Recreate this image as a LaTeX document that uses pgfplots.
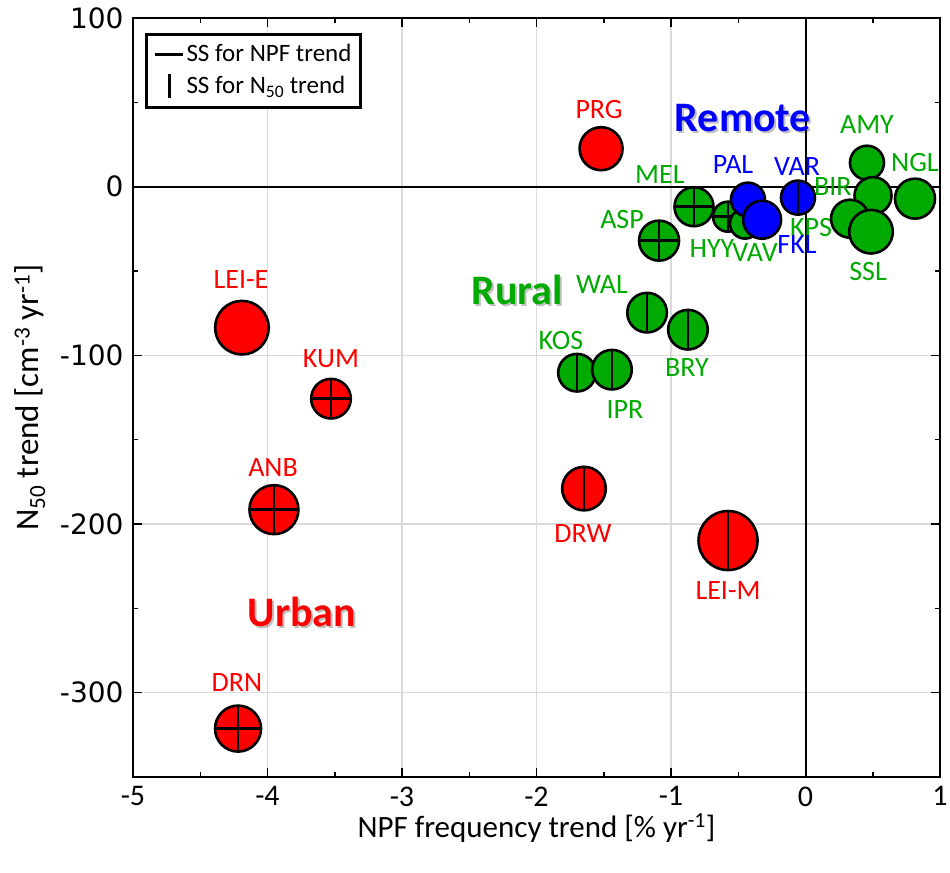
\documentclass[border=0pt]{standalone}
\usepackage{fontspec}
\setmainfont{Carlito}
\newfontfamily\tickfont{DejaVu Sans}
\usepackage{pgfplots}
\pgfplotsset{compat=1.18}

\definecolor{urbanred}{RGB}{255,0,0}
\definecolor{ruralgreen}{RGB}{0,170,0}
\definecolor{remoteblue}{RGB}{0,0,255}
\definecolor{gridgray}{RGB}{218,218,218}

\pgfplotsset{
  site/.style={only marks, mark=*, mark options={draw=black, fill=#1, line width=2.6pt}},
  ssv/.style={only marks, mark=|, mark options={draw=black, line width=2.6pt}},
  ssh/.style={only marks, mark=-, mark options={draw=black, line width=2.6pt}},
}
\tikzset{
  lbl/.style={font=\fontsize{28}{32}\selectfont, inner sep=0pt, anchor=center},
  cat/.style={font=\bfseries\fontsize{42}{46}\selectfont, inner sep=0pt, anchor=center},
}

\begin{document}
\begin{tikzpicture}
\begin{axis}[
  name=ax, at={(0,0)}, anchor=south west,
  width=807pt, height=759pt, scale only axis,
  xmin=-5, xmax=1, ymin=-350, ymax=100,
  xtick={-5,-4,-3,-2,-1,0,1}, xticklabels={-5,-4,-3,-2,-1,0,1},
  ytick={-300,-200,-100,0,100}, yticklabels={-300,-200,-100,0,100},
  minor x tick num=1, minor y tick num=1,
  tick align=inside,
  major tick length=9pt, minor tick length=5pt,
  every tick/.style={black, line width=1.5pt},
  axis line style={black, line width=2pt},
  grid=major, major grid style={gridgray, line width=1.3pt},
  xticklabel style={font=\fontsize{30}{34}\selectfont, yshift=-6pt},
  yticklabel style={font=\tickfont\fontsize{28}{32}\selectfont, xshift=-6pt},
  xlabel={NPF frequency trend [\% yr\textsuperscript{-1}]},
  ylabel={N\textsubscript{50} trend [cm\textsuperscript{-3} yr\textsuperscript{-1}]},
  xlabel style={at={([yshift=-51pt]axis description cs:0.5,0)}, anchor=center, font=\fontsize{31}{34}\selectfont},
  ylabel style={at={([xshift=-103pt]axis description cs:0,0.5)}, anchor=center, font=\fontsize{33}{36}\selectfont},
  legend style={at={(0.015,0.98)}, anchor=north west, draw=black, line width=2.8pt,
    font=\fontsize{25}{29}\selectfont, inner xsep=7pt, inner ysep=8pt, row sep=7pt},
  legend cell align=left,
  clip=false,
]
% legend keys: significance of the two trends
\addlegendimage{legend image code/.code={\draw[black, line width=3pt] (0pt,0pt) -- (28pt,0pt);}}
\addlegendentry{SS for NPF trend}
\addlegendimage{legend image code/.code={\draw[black, line width=3pt] (14pt,-12pt) -- (14pt,12pt);}}
\addlegendentry{SS for N\textsubscript{50} trend}

% zero lines
\draw[black, line width=2pt] (axis cs:0,-350) -- (axis cs:0,100);
\draw[black, line width=2pt] (axis cs:-5,0) -- (axis cs:1,0);

% ---------- urban sites ----------
\addplot[site=urbanred, mark size=21.5] coordinates {(-1.520,22.5)};   % PRG
\addplot[site=urbanred, mark size=26.8] coordinates {(-4.190,-83.6)};  % LEI-E
\addplot[site=urbanred, mark size=19.8] coordinates {(-3.528,-125.7)}; % KUM
\addplot[ssv, mark size=19.8] coordinates {(-3.528,-125.7)};
\addplot[ssh, mark size=19.8] coordinates {(-3.528,-125.7)};
\addplot[site=urbanred, mark size=24.5] coordinates {(-3.952,-191.5)}; % ANB
\addplot[ssv, mark size=24.5] coordinates {(-3.952,-191.5)};
\addplot[ssh, mark size=24.5] coordinates {(-3.952,-191.5)};
\addplot[site=urbanred, mark size=23.0] coordinates {(-4.219,-321.3)}; % DRN
\addplot[ssv, mark size=23.0] coordinates {(-4.219,-321.3)};
\addplot[ssh, mark size=23.0] coordinates {(-4.219,-321.3)};
\addplot[site=urbanred, mark size=21.8] coordinates {(-1.647,-179.0)}; % DRW
\addplot[ssv, mark size=21.8] coordinates {(-1.647,-179.0)};
\addplot[site=urbanred, mark size=29.5] coordinates {(-0.576,-209.8)}; % LEI-M
\addplot[ssv, mark size=29.5] coordinates {(-0.576,-209.8)};

% ---------- rural sites ----------
\addplot[site=ruralgreen, mark size=19.8] coordinates {(-1.178,-74.7)};  % WAL
\addplot[ssv, mark size=19.8] coordinates {(-1.178,-74.7)};
\addplot[site=ruralgreen, mark size=19.8] coordinates {(-0.874,-84.8)};  % BRY
\addplot[ssv, mark size=19.8] coordinates {(-0.874,-84.8)};
\addplot[site=ruralgreen, mark size=18.8] coordinates {(-1.699,-110.3)}; % KOS
\addplot[ssv, mark size=18.8] coordinates {(-1.699,-110.3)};
\addplot[site=ruralgreen, mark size=19.8] coordinates {(-1.439,-108.5)}; % IPR
\addplot[ssv, mark size=19.8] coordinates {(-1.439,-108.5)};
\addplot[site=ruralgreen, mark size=19.5] coordinates {(-0.829,-11.9)};  % MEL
\addplot[ssv, mark size=19.5] coordinates {(-0.829,-11.9)};
\addplot[ssh, mark size=19.5] coordinates {(-0.829,-11.9)};
\addplot[site=ruralgreen, mark size=20.0] coordinates {(-1.089,-32.0)};  % ASP
\addplot[ssv, mark size=20.0] coordinates {(-1.089,-32.0)};
\addplot[ssh, mark size=20.0] coordinates {(-1.089,-32.0)};
\addplot[site=ruralgreen, mark size=15.0] coordinates {(-0.576,-17.8)};  % HYY
\addplot[ssv, mark size=15.0] coordinates {(-0.576,-17.8)};
\addplot[ssh, mark size=15.0] coordinates {(-0.576,-17.8)};
\addplot[site=ruralgreen, mark size=15.0] coordinates {(-0.450,-21.9)};  % VAV
\addplot[site=ruralgreen, mark size=17.0] coordinates {(0.457,14.2)};    % AMY
\addplot[site=ruralgreen, mark size=18.5] coordinates {(0.502,-5.3)};    % BIR
\addplot[site=ruralgreen, mark size=20.0] coordinates {(0.814,-7.1)};    % NGL
\addplot[site=ruralgreen, mark size=19.0] coordinates {(0.331,-19.0)};   % KPS
\addplot[site=ruralgreen, mark size=21.8] coordinates {(0.487,-26.7)};   % SSL

% ---------- remote sites ----------
\addplot[site=remoteblue, mark size=17.0] coordinates {(-0.428,-7.7)};   % PAL
\addplot[site=remoteblue, mark size=19.0] coordinates {(-0.323,-19.6)};  % FKL
\addplot[site=remoteblue, mark size=17.0] coordinates {(-0.056,-6.5)};   % VAR
\addplot[ssv, mark size=17.0] coordinates {(-0.056,-6.5)};

% ---------- site names ----------
\node[lbl, text=urbanred] at (axis cs:-1.535,45.6) {PRG};
\node[lbl, text=urbanred] at (axis cs:-4.197,-55.1) {LEI-E};
\node[lbl, text=urbanred] at (axis cs:-3.528,-102.0) {KUM};
\node[lbl, text=urbanred] at (axis cs:-3.959,-166.6) {ANB};
\node[lbl, text=urbanred] at (axis cs:-4.227,-294.0) {DRN};
\node[lbl, text=urbanred] at (axis cs:-1.654,-205.7) {DRW};
\node[lbl, text=urbanred] at (axis cs:-0.576,-239.5) {LEI-M};

\node[lbl, text=ruralgreen] at (axis cs:-1.513,-58.1) {WAL};
\node[lbl, text=ruralgreen] at (axis cs:-1.818,-91.3) {KOS};
\node[lbl, text=ruralgreen] at (axis cs:-1.342,-132.2) {IPR};
\node[lbl, text=ruralgreen] at (axis cs:-0.881,-107.3) {BRY};
\node[lbl, text=ruralgreen] at (axis cs:-1.083,7.1) {MEL};
\node[lbl, text=ruralgreen] at (axis cs:-1.364,-19.6) {ASP};
\node[lbl, text=ruralgreen] at (axis cs:-0.695,-36.8) {HYY};
\node[lbl, text=ruralgreen] at (axis cs:-0.375,-39.1) {VAV};
\node[lbl, text=ruralgreen] at (axis cs:0.457,36.8) {AMY};
\node[lbl, text=ruralgreen] at (axis cs:0.814,14.2) {NGL};
\node[lbl, text=ruralgreen] at (axis cs:0.204,0.0) {BIR};
\node[lbl, text=ruralgreen] at (axis cs:0.041,-24.3) {KPS};
\node[lbl, text=ruralgreen] at (axis cs:0.465,-50.4) {SSL};

\node[lbl, text=remoteblue] at (axis cs:-0.539,13.0) {PAL};
\node[lbl, text=remoteblue] at (axis cs:-0.063,11.9) {VAR};
\node[lbl, text=remoteblue] at (axis cs:-0.063,-34.4) {FKL};

% ---------- group names, with a soft drop shadow ----------
\node[cat, text=black, opacity=0.25, xshift=2pt, yshift=-2pt] at (axis cs:-0.465,40.9) {Remote};
\node[cat, text=remoteblue] at (axis cs:-0.465,40.9) {Remote};
\node[cat, text=black, opacity=0.25, xshift=2pt, yshift=-2pt] at (axis cs:-2.145,-61.1) {Rural};
\node[cat, text=ruralgreen] at (axis cs:-2.145,-61.1) {Rural};
\node[cat, text=black, opacity=0.25, xshift=2pt, yshift=-2pt] at (axis cs:-3.743,-251.9) {Urban};
\node[cat, text=urbanred] at (axis cs:-3.743,-251.9) {Urban};
\end{axis}
\pgfresetboundingbox
\path[use as bounding box] ([shift={(-133pt,-95pt)}]ax.south west) rectangle ([shift={(10pt,18pt)}]ax.north east);
\end{tikzpicture}
\end{document}
